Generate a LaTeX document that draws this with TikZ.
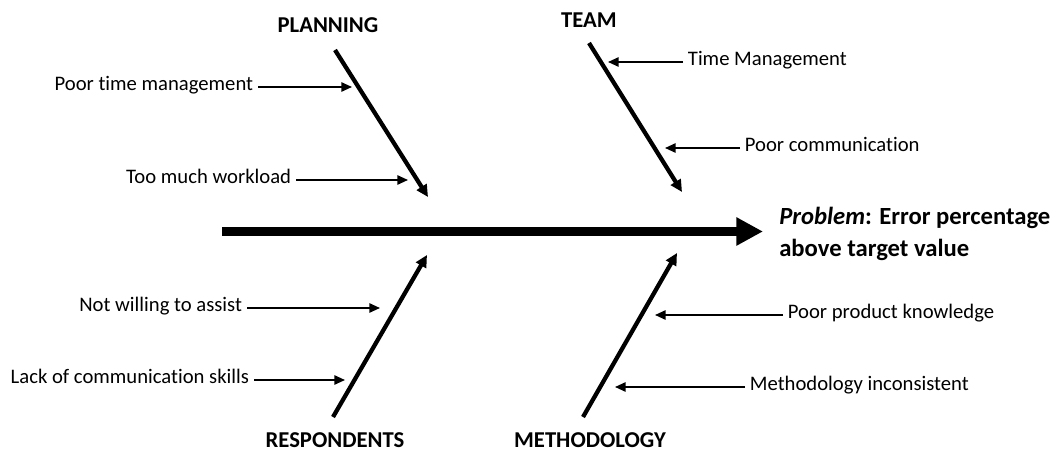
\documentclass[tikz,border=0pt]{standalone}
\usepackage{fontspec}
\setmainfont{Carlito}[Ligatures=NoCommon]
\usetikzlibrary{arrows.meta}

\begin{document}
\begin{tikzpicture}[x=0.75pt,y=-0.75pt,
    spine/.style={line width=7pt,-{Triangle[length=20pt,width=20pt]}},
    bone/.style={line width=3.2pt,-{Triangle[length=9pt,width=8.5pt]}},
    cause/.style={line width=1.3pt,-{Triangle[length=8pt,width=7pt]}},
    causetxt/.style={inner sep=3.5pt,font=\fontsize{15.5}{19}\selectfont,text height=0.7em,text depth=0.2em},
    catlbl/.style={inner sep=0pt,anchor=base,font=\fontsize{17}{20}\selectfont\bfseries}]
       \useasboundingbox (0,0) rectangle (1056,452);
       % spine and problem
       \coordinate (spS) at (222,231.5);
       \coordinate (spE) at (763,231.5);
       \draw [spine] (spS) -- (spE);
       \node (prob) [anchor=west,align=left,inner sep=0pt,font=\fontsize{18.5}{24}\selectfont\bfseries] at (779,234) {\textit{Problem}: Error percentage\\above target value};
       % planning
       \node (plan) [catlbl] at (328,33) {PLANNING};
       \coordinate (plS) at (335,50);
       \coordinate (plE) at (428,197);
       \draw [bone] (plS) -- (plE);
       \coordinate (pl1) at (352,87);
       \coordinate (pl2) at (408,180);
       \node (ptm) [causetxt,anchor=east] at (258,87) {Poor time management};
       \node (tmw) [causetxt,anchor=east] at (296,180) {Too much workload};
       \draw [cause] (ptm.east) -- (pl1);
       \draw [cause] (tmw.east) -- (pl2);
       % team
       \node (team) [catlbl] at (589,28) {TEAM};
       \coordinate (tmS) at (589,43);
       \coordinate (tmE) at (682,192);
       \draw [bone] (tmS) -- (tmE);
       \coordinate (tm1) at (608,62);
       \coordinate (tm2) at (665,148);
       \node (tman) [causetxt,anchor=west] at (683,62) {Time Management};
       \node (pcom) [causetxt,anchor=west] at (740,148) {Poor communication};
       \draw [cause] (tman.west) -- (tm1);
       \draw [cause] (pcom.west) -- (tm2);
       % respondents
       \node (resp) [catlbl] at (335,447) {RESPONDENTS};
       \coordinate (rsS) at (333,417);
       \coordinate (rsE) at (427,255);
       \draw [bone] (rsS) -- (rsE);
       \coordinate (rs1) at (380,308);
       \coordinate (rs2) at (345,380);
       \node (nwa) [causetxt,anchor=east] at (247,308) {Not willing to assist};
       \node (lcs) [causetxt,anchor=east] at (254,380) {Lack of communication skills};
       \draw [cause] (nwa.east) -- (rs1);
       \draw [cause] (lcs.east) -- (rs2);
       % methodology
       \node (meth) [catlbl] at (590,447) {METHODOLOGY};
       \coordinate (mdS) at (583,417);
       \coordinate (mdE) at (677,253);
       \draw [bone] (mdS) -- (mdE);
       \coordinate (md1) at (655,315);
       \coordinate (md2) at (615,387);
       \node (ppk) [causetxt,anchor=west] at (783,315) {Poor product knowledge};
       \node (minc) [causetxt,anchor=west] at (745,387) {Methodology inconsistent};
       \draw [cause] (ppk.west) -- (md1);
       \draw [cause] (minc.west) -- (md2);
\end{tikzpicture}
\end{document}
